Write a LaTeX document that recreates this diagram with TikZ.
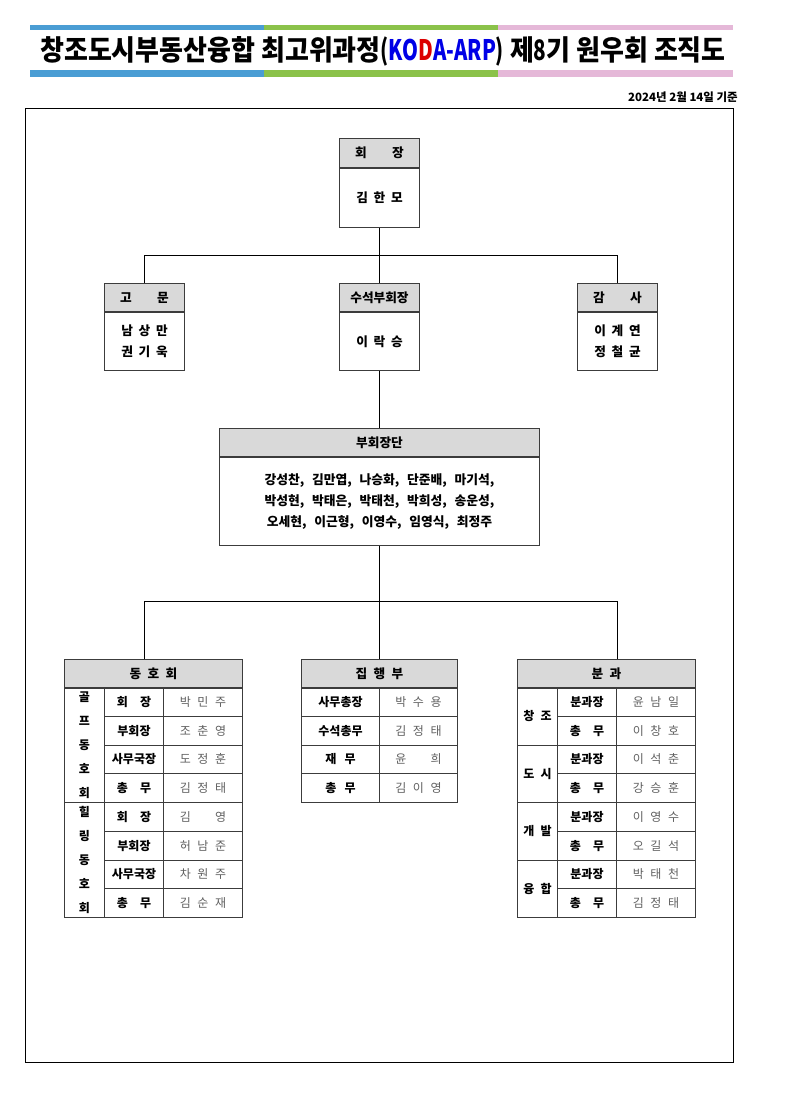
\documentclass[tikz,border=0pt]{standalone}
\usepackage{fontspec}
\usepackage{graphicx}
\setmainfont{Noto Sans CJK KR}
\definecolor{hdrgray}{RGB}{217,217,217}
\definecolor{lc}{RGB}{60,60,60}
\definecolor{sblue}{RGB}{74,157,212}
\definecolor{sgreen}{RGB}{139,194,74}
\definecolor{spink}{RGB}{229,184,216}
\definecolor{kblue}{RGB}{0,0,230}
\definecolor{kred}{RGB}{220,0,0}
\definecolor{namegray}{RGB}{95,95,95}
\newcommand\namefnt{\fontsize{9pt}{11pt}\selectfont\spaceskip=0.55em\relax}
\newcommand\bodyfnt{\fontsize{9.5pt}{15.75pt}\selectfont\bfseries\spaceskip=0.45em\relax}
\newcommand\vpfnt{\fontsize{9.6pt}{15.75pt}\selectfont\bfseries\spaceskip=0.6em\relax}
\newcommand\thdrfnt{\fontsize{9.5pt}{11pt}\selectfont\bfseries\spaceskip=0.5em\relax}
\newcommand\grpfnt{\fontsize{9pt}{18pt}\selectfont\bfseries\spaceskip=0.5em\relax}
\tikzset{
  box/.style={draw=lc, line width=0.75pt, inner sep=0pt, align=center},
  hdr/.style={box, fill=hdrgray, font=\fontsize{9.5pt}{11pt}\selectfont\bfseries},
  bodyb/.style={box, fill=white, font=\bodyfnt},
  thdr/.style={box, fill=hdrgray, minimum height=21pt, anchor=north west, font=\thdrfnt},
  grpc/.style={box, minimum width=30pt, anchor=north west, font=\grpfnt},
  rolec/.style={box, minimum height=21.5625pt, anchor=north west, font=\fontsize{9pt}{11pt}\selectfont\bfseries},
  namec/.style={box, minimum height=21.5625pt, minimum width=59.25pt, anchor=north west, text=namegray, font=\namefnt},
  dbl/.style={lc, line width=1.7pt},
  conn/.style={black, line width=0.75pt},
}
\begin{document}
\begin{tikzpicture}[x=0.75pt,y=-0.75pt]
\useasboundingbox (0,0) rectangle (791,1120);
% title stripes
\fill[sblue] (30,25) rectangle (264,30);
\fill[sgreen] (264,25) rectangle (498,30);
\fill[spink] (498,25) rectangle (733,30);
\fill[sblue] (30,70) rectangle (264,77);
\fill[sgreen] (264,70) rectangle (498,77);
\fill[spink] (498,70) rectangle (733,77);
\node[anchor=base west, inner sep=0pt] (title) at (40,61) {\resizebox{514pt}{18pt}{\bfseries 창조도시부동산융합 최고위과정\scalebox{0.78}[1]{(\textcolor{kblue}{KO}\textcolor{kred}{D}\textcolor{kblue}{A-ARP})} 제\scalebox{0.8}[1]{8}기 원우회 조직도}};
\node[anchor=east, inner sep=0pt, font=\fontsize{8.6pt}{9pt}\selectfont\bfseries] (date) at (738,97) {2024년 2월 14일 기준};
% frame
\draw[black, line width=0.75pt] (25,109) rectangle (733,1062);

% president
\node[hdr, minimum width=60pt, minimum height=21.75pt, anchor=north west] (presH) at (339,138) {회\hspace{2em}장};
\node[bodyb, minimum width=60pt, minimum height=44.25pt, anchor=north] (presB) at (presH.south) {김 한 모};
\draw[dbl] (presH.south west) -- (presH.south east);

% second row
\node[hdr, minimum width=60pt, minimum height=21pt, anchor=north west] (goH) at (104,283) {고\hspace{2em}문};
\node[bodyb, minimum width=60pt, minimum height=43.5pt, anchor=north] (goB) at (goH.south) {남 상 만\\권 기 욱};
\node[hdr, minimum width=60pt, minimum height=21pt, anchor=north west] (subH) at (339,283) {수석부회장};
\node[bodyb, minimum width=60pt, minimum height=43.5pt, anchor=north] (subB) at (subH.south) {이 락 승};
\node[hdr, minimum width=60pt, minimum height=21pt, anchor=north west] (gaH) at (577,283) {감\hspace{2em}사};
\node[bodyb, minimum width=60pt, minimum height=43.5pt, anchor=north] (gaB) at (gaH.south) {이 계 연\\정 철 균};
\foreach \n in {goH,subH,gaH} \draw[dbl] (\n.south west) -- (\n.south east);

% vice presidents
\node[hdr, minimum width=240pt, minimum height=21pt, anchor=north west] (vpH) at (219,428) {부회장단};
\node[box, fill=white, minimum width=240pt, minimum height=66pt, anchor=north, font=\vpfnt] (vpB) at (vpH.south) {강성찬, 김만엽, 나승화, 단준배, 마기석,\\박성현, 박태은, 박태천, 박희성, 송운성,\\오세현, 이근형, 이영수, 임영식, 최정주};
\draw[dbl] (vpH.south west) -- (vpH.south east);

% connectors top
\coordinate (j1) at (379,255);
\draw[conn] (presB.south) -- (subH.north);
\draw[conn] (goH.north) -- (goH.north |- j1) -- (gaH.north |- j1) -- (gaH.north);
\draw[conn] (subB.south) -- (vpH.north);

% ===== 동호회 table
\node[thdr, minimum width=133.5pt] (dhH) at (64,659) {동 호 회};
\node[grpc, minimum height=86.25pt] (dg1) at (64,687) {골\\프\\동\\호\\회};
\node[grpc, minimum height=86.25pt] (dg2) at (64,802) {힐\\링\\동\\호\\회};
\foreach \i/\r/\m in {1/{회\hspace{1em}장}/{박 민 주},2/{부회장}/{조 춘 영},3/{사무국장}/{도 정 훈},4/{총\hspace{1em}무}/{김 정 태},5/{회\hspace{1em}장}/{김 \phantom{정} 영},6/{부회장}/{허 남 준},7/{사무국장}/{차 원 주},8/{총\hspace{1em}무}/{김 순 재}}{
  \node[rolec, minimum width=44.25pt] (dr\i) at (104,{687+28.75*(\i-1)}) {\r};
  \node[namec] (dn\i) at (163,{687+28.75*(\i-1)}) {\m};
}
\draw[dbl] (dhH.south west) -- (dhH.south east);

% ===== 집행부 table
\node[thdr, minimum width=117pt] (jhH) at (301,659) {집 행 부};
\foreach \i/\r/\m in {1/{사무총장}/{박 수 용},2/{수석총무}/{김 정 태},3/{재\hspace{0.7em}무}/{윤 \phantom{정} 희},4/{총\hspace{0.7em}무}/{김 이 영}}{
  \node[rolec, minimum width=58.5pt] (jr\i) at (301,{687+28.75*(\i-1)}) {\r};
  \node[namec, minimum width=58.5pt] (jn\i) at (379,{687+28.75*(\i-1)}) {\m};
}
\draw[dbl] (jhH.south west) -- (jhH.south east);

% ===== 분과 table
\node[thdr, minimum width=133.5pt] (bgH) at (517,659) {분 과};
\foreach \i/\g in {1/{창 조},2/{도 시},3/{개 발},4/{융 합}}{
  \node[grpc, minimum height=43.125pt] (bg\i) at (517,{687+57.5*(\i-1)}) {\g};
}
\foreach \i/\r/\m in {1/{분과장}/{윤 남 일},2/{총\hspace{1em}무}/{이 창 호},3/{분과장}/{이 석 춘},4/{총\hspace{1em}무}/{강 승 훈},5/{분과장}/{이 영 수},6/{총\hspace{1em}무}/{오 길 석},7/{분과장}/{박 태 천},8/{총\hspace{1em}무}/{김 정 태}}{
  \node[rolec, minimum width=44.25pt] (br\i) at (557,{687+28.75*(\i-1)}) {\r};
  \node[namec] (bn\i) at (616,{687+28.75*(\i-1)}) {\m};
}
\draw[dbl] (bgH.south west) -- (bgH.south east);

% connectors bottom
\coordinate (j2) at (379,601);
\draw[conn] (vpB.south) -- (jhH.north);
\draw[conn] (goH.north |- dhH.north) -- (goH.north |- j2) -- (gaH.north |- j2) -- (gaH.north |- bgH.north);
\end{tikzpicture}
\end{document}
